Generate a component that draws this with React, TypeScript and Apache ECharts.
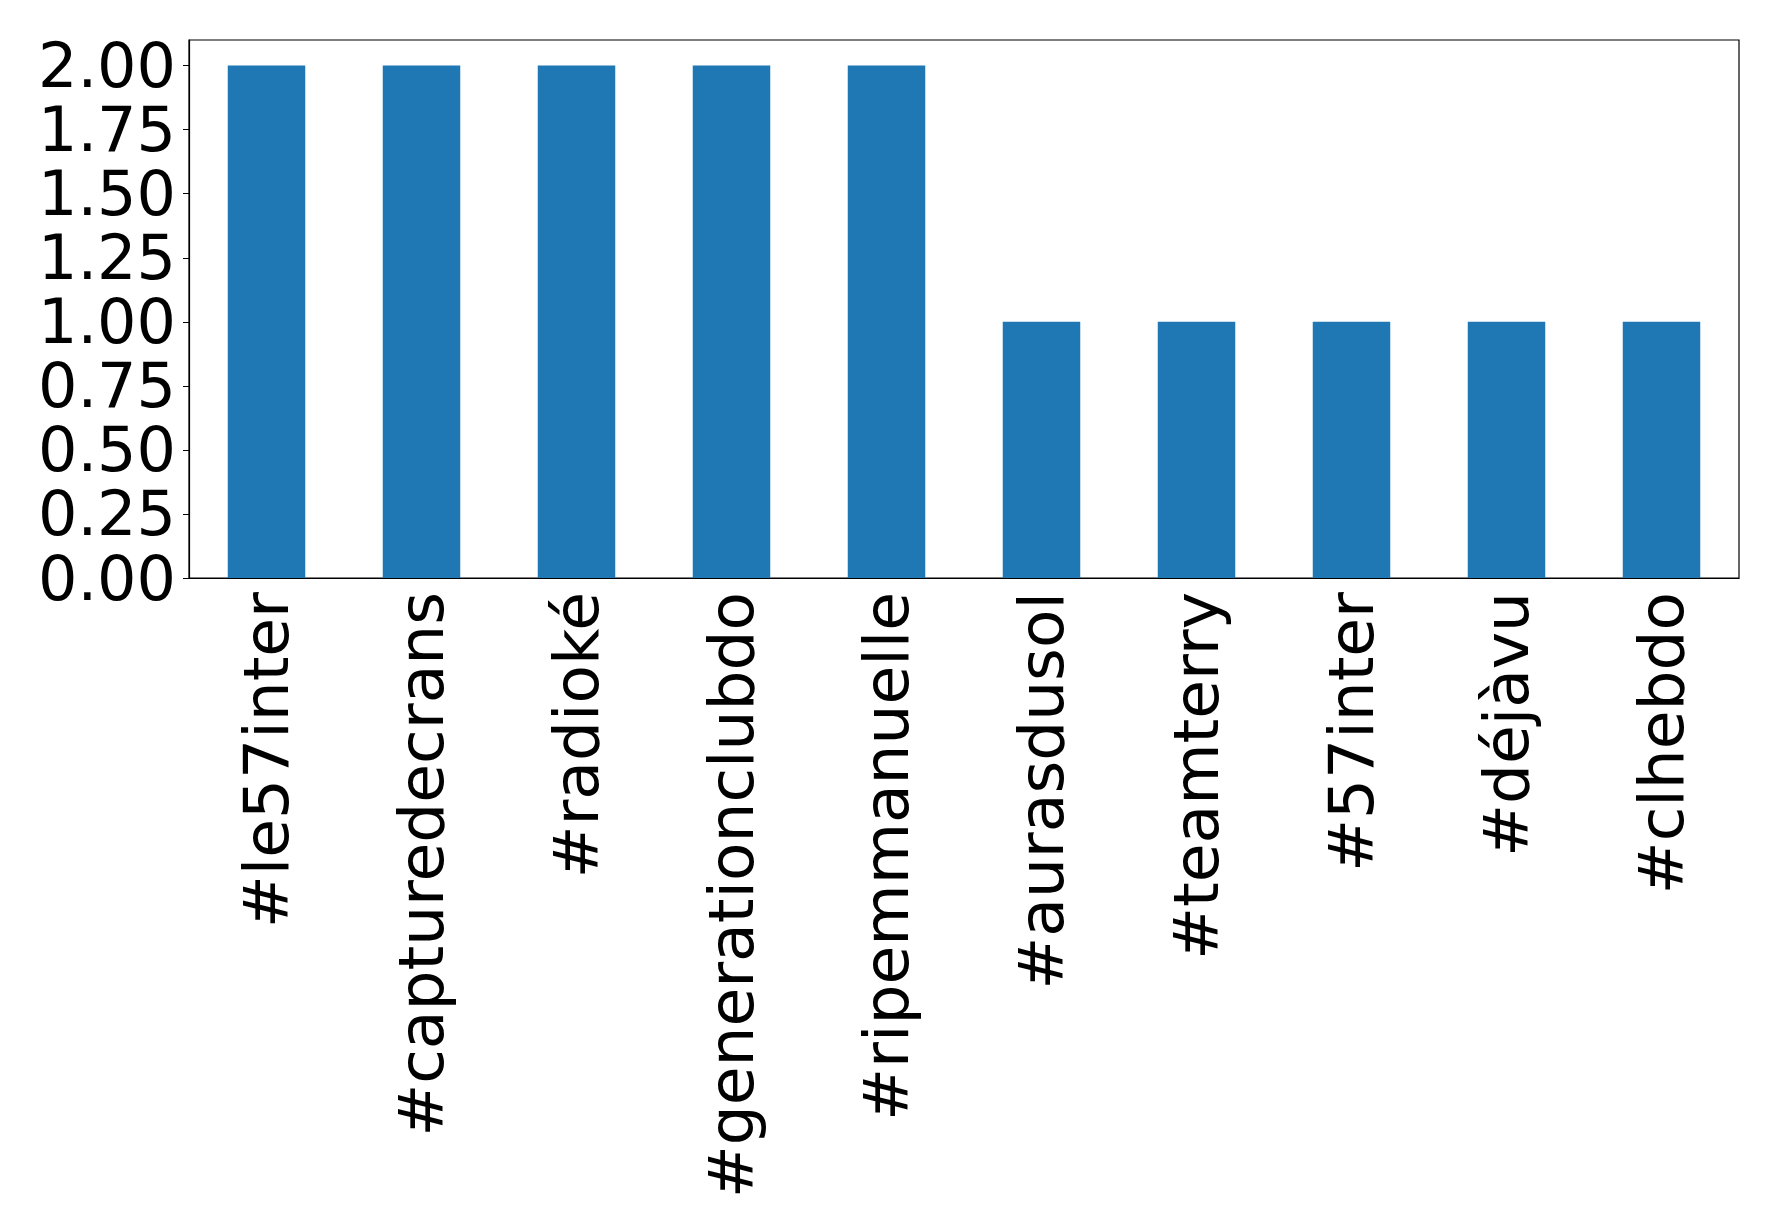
import React, { useEffect, useRef } from "react";
import * as echarts from "echarts";

const categories = [
  "#le57inter",
  "#capturedecrans",
  "#radioké",
  "#generationclubdo",
  "#ripemmanuelle",
  "#aurasdusol",
  "#teamterry",
  "#57inter",
  "#déjàvu",
  "#clhebdo",
];
const counts = [2, 2, 2, 2, 2, 1, 1, 1, 1, 1];
const yTicks = [0, 0.25, 0.5, 0.75, 1.0, 1.25, 1.5, 1.75, 2.0];

export default function App() {
  const ref = useRef<HTMLDivElement>(null);
  useEffect(() => {
    if (!ref.current) return;
    const chart = echarts.init(ref.current, null, { renderer: "svg" });
    const font = "DejaVu Sans";
    chart.setOption({
      animation: false,
      backgroundColor: "#ffffff",
      grid: {
        left: 189,
        right: 39,
        top: 40,
        bottom: 651,
        show: true,
        borderColor: "#000000",
        borderWidth: 1.2,
        containLabel: false,
      },
      xAxis: {
        type: "category",
        data: categories,
        axisLine: { lineStyle: { color: "#000", width: 1.2 } },
        axisTick: { alignWithLabel: true, length: 6, lineStyle: { color: "#000" } },
        axisLabel: {
          rotate: 90,
          interval: 0,
          fontFamily: font,
          fontSize: 63,
          color: "#000",
          margin: 14,
        },
      },
      yAxis: {
        type: "value",
        min: 0,
        max: 2.1,
        splitLine: { show: false },
        axisLine: { show: true, lineStyle: { color: "#000", width: 1.2 } },
        axisTick: {
          show: true,
          length: 6,
          customValues: yTicks,
          lineStyle: { color: "#000" },
        },
        axisLabel: {
          customValues: yTicks,
          formatter: (v: number) => v.toFixed(2),
          fontFamily: font,
          fontSize: 62,
          lineHeight: 58,
          color: "#000",
          margin: 13,
        },
      },
      series: [
        {
          type: "bar",
          data: counts,
          barWidth: "50%",
          itemStyle: { color: "#1f77b4" },
        },
      ],
    });
    return () => chart.dispose();
  }, []);
  return (
    <div
      ref={ref}
      style={{ position: "fixed", left: 0, top: 0, width: 1778, height: 1229 }}
    />
  );
}
